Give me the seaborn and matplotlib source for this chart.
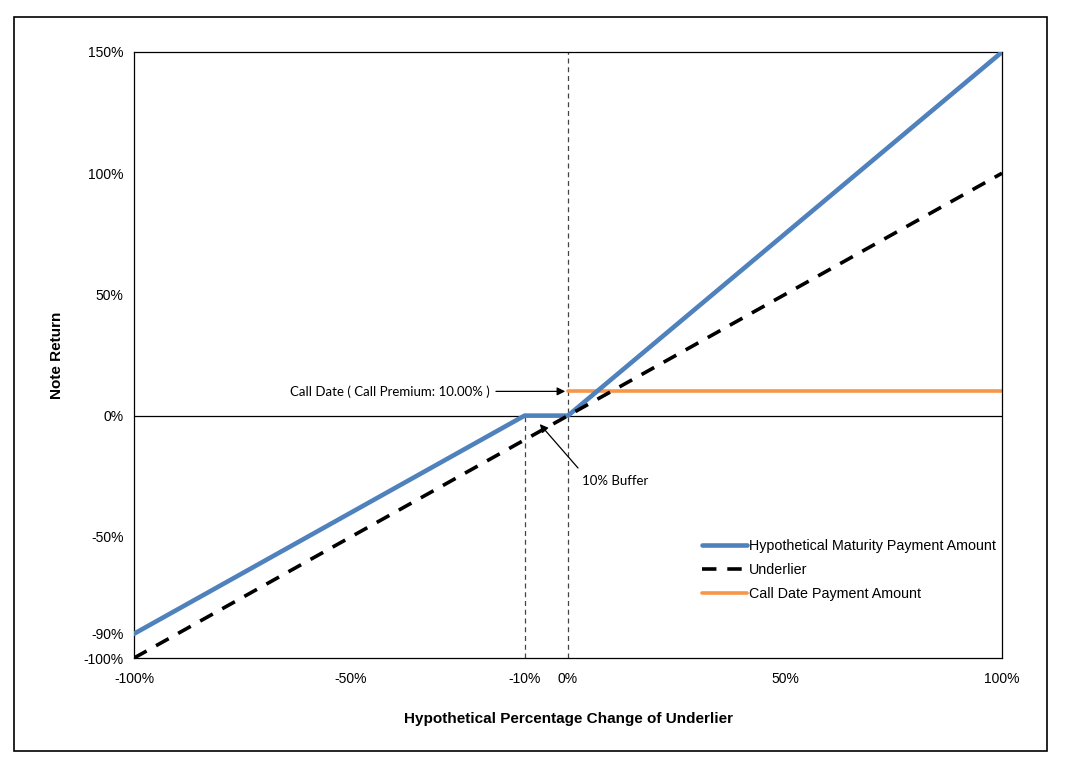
import matplotlib
matplotlib.use("Agg")
import matplotlib.pyplot as plt
import matplotlib.ticker as mtick
import seaborn as sns
import pandas as pd

# datos del grafico (en %)
x_underlier = [-100, -50, 0, 50, 100]
y_underlier = [-100, -50, 0, 50, 100]
x_maturity = [-100, -10, 0, 100]
y_maturity = [-90, 0, 0, 150]
x_call = [0, 100]
y_call = [10, 10]
xticks = [-100, -50, -10, 0, 50, 100]
yticks = [-100, -90, -50, 0, 50, 100, 150]

sns.set_style("white")
plt.rcParams['font.family'] = ['Liberation Sans', 'DejaVu Sans']
plt.rcParams['text.color'] = 'black'
plt.rcParams['axes.labelcolor'] = 'black'
plt.rcParams['xtick.color'] = 'black'
plt.rcParams['ytick.color'] = 'black'

fig = plt.figure(figsize=(10.77, 7.83), dpi=100)
ax = fig.add_axes([0.1244, 0.1596, 0.806, 0.774])

# borde exterior
fig.patches.append(plt.Rectangle((0.013, 0.041), 0.959, 0.937, transform=fig.transFigure,
                                 fill=False, edgecolor='black', linewidth=1.2))

df_mat = pd.DataFrame({'x': x_maturity, 'y': y_maturity})
df_und = pd.DataFrame({'x': x_underlier, 'y': y_underlier})
df_call = pd.DataFrame({'x': x_call, 'y': y_call})

# lineas de referencia
ax.axhline(0, color='black', linewidth=0.9, zorder=1)
ax.plot([-10, -10], [-100, 0], color='#444444', linestyle=(0, (4, 3)), linewidth=0.9, zorder=1)
ax.plot([0, 0], [-100, 150], color='#444444', linestyle=(0, (4, 3)), linewidth=0.9, zorder=1)

sns.lineplot(data=df_mat, x='x', y='y', ax=ax, color='#4F81BD', linewidth=3.3,
             label='Hypothetical Maturity Payment Amount', sort=False, zorder=3)
sns.lineplot(data=df_und, x='x', y='y', ax=ax, color='black', linewidth=2.6,
             linestyle=(0, (4, 3)), label='Underlier', sort=False, zorder=4)
sns.lineplot(data=df_call, x='x', y='y', ax=ax, color='#F79646', linewidth=2.6,
             label='Call Date Payment Amount', sort=False, zorder=2)

ax.set_xlim(-100, 100)
ax.set_ylim(-100, 150)
ax.set_xticks(xticks)
ax.set_yticks(yticks)
ax.xaxis.set_major_formatter(mtick.FuncFormatter(lambda v, p: f"{v:.0f}%"))
ax.yaxis.set_major_formatter(mtick.FuncFormatter(lambda v, p: f"{v:.0f}%"))
ax.tick_params(axis='both', labelsize=10, length=4, width=0.9, direction='out', color='black')
ax.tick_params(axis='x', pad=6)
for s in ax.spines.values():
    s.set_color('black')
    s.set_linewidth(0.9)

ax.set_xlabel('Hypothetical Percentage Change of Underlier', fontsize=11, fontweight='bold', labelpad=19)
ax.set_ylabel('Note Return', fontsize=11, fontweight='bold', labelpad=14)

# anotaciones
ax.annotate('Call Date ( Call Premium: 10.00% )', xy=(0, 10), xytext=(-18, 10),
            fontsize=9.5, family=['Lato', 'DejaVu Sans'], ha='right', va='center',
            arrowprops=dict(arrowstyle='-|>', color='black', lw=0.9, mutation_scale=12))
ax.annotate('', xy=(-6.5, -3.5), xytext=(2.3, -21.6),
            arrowprops=dict(arrowstyle='-|>', color='black', lw=0.9, mutation_scale=12,
                            shrinkA=0, shrinkB=0))
ax.text(3.2, -27, '10% Buffer', fontsize=9.5, family=['Lato', 'DejaVu Sans'],
        ha='left', va='center')

leg = ax.legend(loc='upper left', bbox_to_anchor=(0.64, 0.218), frameon=False,
                fontsize=10.3, handlelength=3.1, handletextpad=0.15, labelspacing=0.7)

fig.savefig('out.png', dpi=100)
